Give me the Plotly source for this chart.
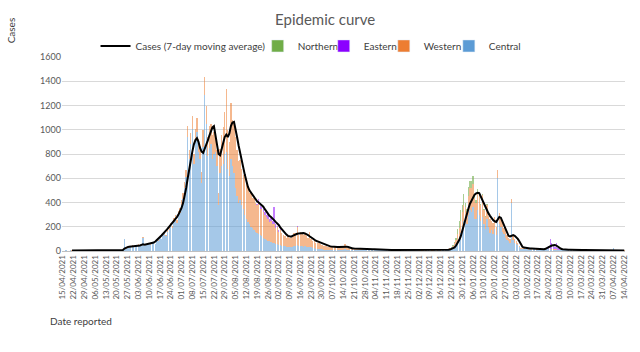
import pandas as pd
import plotly.graph_objects as go

start_date = "2021-04-15"
n_days = 365
dates = pd.date_range(start_date, periods=n_days, freq="D")

# Daily reported cases, one row per week (day 0 = 15/04/2021)
central = [
    4, 2, 5, 3, 1, 6, 4,
    5, 3, 6, 2, 4, 7, 3,
    4, 6, 3, 5, 8, 4, 6,
    7, 4, 5, 9, 3, 6, 8,
    6, 9, 5, 7, 10, 4, 8,
    9, 6, 11, 8, 12, 95, 20,
    35, 28, 40, 45, 30, 38, 42,
    50, 38, 45, 110, 40, 55, 48,
    60, 52, 70, 65, 55, 90, 85,
    110, 95, 130, 140, 120, 160, 175,
    210, 190, 240, 260, 230, 290, 310,
    380, 430, 520, 610, 940, 760, 880,
    1010, 720, 900, 980, 820, 760, 560,
    860, 1290, 1050, 780, 850, 880, 760,
    800, 820, 700, 380, 640, 700, 720,
    800, 820, 680, 620, 760, 700, 640,
    520, 450, 400, 420, 380, 350, 300,
    260, 240, 220, 200, 190, 170, 160,
    150, 140, 130, 120, 110, 100, 90,
    85, 80, 75, 70, 70, 60, 55,
    50, 50, 45, 40, 40, 35, 35,
    30, 30, 35, 40, 45, 50, 40,
    45, 40, 35, 40, 35, 30, 35,
    30, 25, 25, 20, 20, 18, 15,
    15, 12, 12, 10, 10, 10, 8,
    10, 8, 9, 7, 8, 10, 9,
    12, 15, 10, 8, 7, 6, 5,
    6, 5, 10, 12, 9, 11, 13,
    8, 10, 9, 11, 8, 10, 12,
    7, 9, 8, 9, 7, 9, 10,
    6, 8, 7, 8, 6, 7, 9,
    5, 7, 6, 7, 5, 6, 8,
    4, 6, 5, 6, 4, 5, 7,
    4, 5, 4, 5, 4, 5, 6,
    3, 4, 4, 5, 3, 4, 5,
    4, 5, 6, 8, 10, 12, 15,
    20, 30, 45, 60, 80, 110, 150,
    200, 250, 240, 220, 300, 340, 320,
    360, 260, 260, 340, 300, 250, 280,
    220, 180, 260, 200, 150, 170, 140,
    180, 130, 600, 220, 200, 160, 140,
    110, 90, 80, 70, 400, 90, 70,
    60, 50, 30, 20, 18, 16, 15,
    14, 12, 15, 11, 13, 16, 10,
    12, 14, 11, 13, 15, 12, 14,
    15, 15, 12, 10, 12, 10, 8,
    8, 7, 8, 6, 9, 7, 8,
    5, 7, 6, 8, 7, 9, 6,
    5, 6, 7, 5, 8, 6, 7,
    5, 6, 5, 7, 6, 8, 5,
    4, 5, 6, 5, 7, 5, 6,
    22, 5, 4, 6, 5, 4, 5,
    4,
]

western = [
    0, 0, 1, 0, 0, 0, 1,
    0, 1, 0, 0, 1, 0, 0,
    1, 0, 0, 1, 0, 0, 1,
    0, 1, 0, 0, 1, 0, 0,
    1, 0, 1, 0, 0, 1, 0,
    0, 1, 0, 1, 0, 5, 2,
    3, 2, 4, 2, 3, 4, 3,
    4, 3, 5, 7, 3, 4, 5,
    5, 4, 6, 5, 4, 8, 7,
    10, 8, 12, 15, 10, 18, 20,
    25, 20, 30, 35, 25, 40, 45,
    40, 45, 50, 60, 90, 70, 90,
    100, 80, 110, 120, 100, 110, 90,
    140, 145, 150, 160, 180, 170, 200,
    180, 150, 130, 100, 200, 260, 300,
    350, 520, 320, 280, 460, 380, 420,
    420, 380, 340, 330, 300, 280, 310,
    300, 290, 260, 280, 250, 270, 240,
    230, 250, 220, 230, 210, 200, 190,
    180, 160, 170, 150, 150, 130, 140,
    110, 120, 100, 90, 80, 70, 85,
    75, 80, 95, 110, 100, 150, 90,
    110, 100, 95, 110, 90, 80, 120,
    70, 60, 55, 50, 45, 45, 40,
    35, 30, 32, 28, 25, 30, 25,
    28, 22, 25, 20, 24, 28, 25,
    30, 45, 30, 20, 15, 14, 12,
    13, 12, 5, 6, 4, 5, 6,
    3, 5, 4, 5, 4, 5, 5,
    3, 4, 3, 4, 3, 4, 4,
    2, 3, 2, 3, 3, 2, 2,
    2, 2, 2, 1, 2, 3, 1,
    2, 1, 2, 1, 1, 2, 1,
    1, 1, 1, 1, 1, 2, 1,
    1, 1, 1, 1, 1, 1, 1,
    1, 2, 3, 3, 4, 5, 6,
    8, 12, 20, 30, 60, 80, 100,
    120, 130, 120, 100, 150, 180, 200,
    190, 180, 140, 150, 160, 130, 180,
    120, 100, 120, 90, 110, 80, 90,
    100, 70, 70, 90, 60, 70, 50,
    60, 40, 30, 25, 30, 30, 25,
    20, 15, 10, 8, 6, 6, 5,
    4, 3, 5, 3, 4, 5, 3,
    4, 4, 3, 4, 5, 4, 4,
    5, 5, 4, 5, 5, 4, 3,
    3, 2, 3, 2, 3, 2, 2,
    2, 1, 2, 2, 1, 2, 1,
    1, 2, 1, 2, 1, 1, 2,
    1, 1, 2, 1, 1, 2, 1,
    1, 1, 1, 2, 1, 1, 1,
    4, 1, 1, 1, 1, 1, 1,
    1,
]

# Sparse regions: day offsets from 15/04/2021 and values
northern_day = [251, 252, 253, 254, 255, 256, 257, 258, 259, 260, 261, 262, 263,
                264, 265, 266, 267, 268, 269, 270, 271, 272, 273, 274, 275]
northern_val = [2, 3, 5, 10, 20, 40, 60, 90, 60, 90, 40, 30, 80,
                60, 60, 70, 30, 20, 20, 15, 10, 10, 10, 5, 5]

eastern_day = [126, 127, 128, 129, 130, 131, 132, 133, 134, 135, 136, 137, 138,
               139, 140, 141, 142, 152, 315, 316, 317, 318, 319, 320, 321, 322]
eastern_val = [10, 40, 20, 15, 30, 25, 20, 40, 20, 30, 25, 140, 30,
               15, 10, 10, 5, 5, 20, 80, 50, 30, 20, 50, 15, 5]

# 7-day moving average
moving_avg = [
    None, None, None, None, None, None, 4,
    4, 4, 4, 4, 4, 5, 5,
    5, 5, 5, 5, 5, 5, 5,
    5, 6, 6, 6, 6, 6, 6,
    6, 7, 7, 7, 7, 7, 8,
    8, 8, 9, 9, 9, 20, 28,
    32, 35, 36, 37, 38, 39, 40,
    42, 45, 50, 55, 52, 54, 56,
    58, 62, 66, 70, 78, 88, 100,
    115, 128, 140, 155, 170, 185, 200,
    215, 230, 245, 260, 280, 300, 325,
    355, 395, 450, 520, 600, 680, 760,
    820, 880, 915, 930, 900, 850, 820,
    810, 840, 880, 910, 950, 990, 1020,
    1030, 950, 860, 800, 790, 830, 890,
    940, 960, 940, 970, 1030, 1060, 1065,
    1010, 940, 870, 800, 740, 690, 630,
    575, 530, 500, 480, 460, 450, 430,
    410, 400, 390, 375, 365, 345, 325,
    305, 290, 280, 270, 255, 240, 228,
    215, 195, 178, 160, 148, 135, 125,
    118, 118, 125, 132, 138, 142, 145,
    148, 150, 148, 145, 140, 132, 122,
    115, 105, 95, 85, 80, 75, 68,
    60, 55, 52, 48, 44, 40, 38,
    36, 35, 35, 34, 34, 35, 36,
    38, 38, 36, 33, 28, 24, 21,
    20, 19, 18, 18, 17, 17, 17,
    16, 16, 15, 15, 15, 14, 14,
    13, 13, 12, 12, 12, 11, 11,
    10, 10, 10, 9, 9, 9, 9,
    8, 8, 8, 8, 7, 7, 7,
    7, 7, 6, 6, 6, 6, 6,
    6, 6, 6, 5, 5, 5, 5,
    5, 5, 5, 5, 5, 5, 5,
    6, 6, 7, 7, 8, 10, 12,
    16, 22, 30, 45, 65, 90, 120,
    170, 215, 260, 310, 350, 390, 420,
    445, 465, 475, 480, 478, 450, 410,
    380, 355, 335, 310, 290, 270, 255,
    245, 240, 260, 280, 275, 245, 210,
    175, 145, 125, 120, 125, 132, 125,
    115, 100, 80, 50, 35, 28, 25,
    23, 22, 20, 20, 19, 18, 17,
    16, 15, 15, 15, 15, 18, 25,
    35, 42, 45, 48, 50, 45, 35,
    25, 18, 14, 12, 11, 10, 10,
    10, 9, 9, 9, 9, 9, 8,
    8, 8, 8, 8, 8, 8, 8,
    7, 7, 7, 7, 7, 7, 7,
    7, 7, 6, 6, 6, 6, 6,
    6, 6, 6, 6, 6, 6, 5,
    5,
]

for name, arr in (("central", central), ("western", western), ("moving_avg", moving_avg)):
    if len(arr) != n_days:
        raise ValueError(f"{name} has {len(arr)} values")

northern_dates = [dates[i] for i in northern_day]
eastern_dates = [dates[i] for i in eastern_day]

y_ticks = [0, 200, 400, 600, 800, 1000, 1200, 1400, 1600]

full = {"Northern": "#70AD47", "Eastern": "#8B00FF", "Western": "#ED7D31", "Central": "#5B9BD5"}
light = {"Northern": "rgba(112,173,71,0.6)", "Eastern": "rgba(139,0,255,0.5)",
         "Western": "rgba(237,125,49,0.55)", "Central": "rgba(91,155,213,0.55)"}

FONT = "Lato, 'Open Sans', sans-serif"
GREY = "#595959"
LEG_FONT = dict(size=10, color="#404040", family=FONT)

fig = go.Figure()
# stacked bars: Central at bottom, then Western, Eastern, Northern
fig.add_trace(go.Bar(x=dates, y=central, marker_color=light["Central"], marker_line_width=0,
                     showlegend=False, name="Central"))
fig.add_trace(go.Bar(x=dates, y=western, marker_color=light["Western"], marker_line_width=0,
                     showlegend=False, name="Western"))
fig.add_trace(go.Bar(x=eastern_dates, y=eastern_val, marker_color=light["Eastern"], marker_line_width=0,
                     showlegend=False, name="Eastern"))
fig.add_trace(go.Bar(x=northern_dates, y=northern_val, marker_color=light["Northern"], marker_line_width=0,
                     showlegend=False, name="Northern"))
fig.add_trace(go.Scatter(x=dates, y=moving_avg, mode="lines", line=dict(color="black", width=2),
                         name="Cases (7-day moving average)", showlegend=True, legend="legend"))
# legend-only entries with solid swatches, each in its own legend box
legend_names = ["legend2", "legend3", "legend4", "legend5"]
for nm, lg in zip(["Northern", "Eastern", "Western", "Central"], legend_names):
    fig.add_trace(go.Bar(x=[None], y=[None], marker_color=full[nm], name=nm, showlegend=True,
                         legend=lg))


def px_to_paper(px):
    return (px - 62.5) / 562.5


leg_common = dict(orientation="h", xanchor="left", y=1.057, yanchor="middle",
                  font=LEG_FONT, itemwidth=30, bgcolor="rgba(0,0,0,0)", borderwidth=0)
legend_starts = {"legend": 96, "legend2": 258, "legend3": 324, "legend4": 384, "legend5": 449}

fig.update_layout(
    width=640, height=352,
    barmode="stack", bargap=0.12,
    plot_bgcolor="white", paper_bgcolor="white",
    margin=dict(l=62, r=15, t=57, b=101),
    font=dict(family=FONT, color=GREY, size=9),
    title=dict(text="Epidemic curve", x=0.508, xanchor="center", y=0.943, yanchor="middle",
               font=dict(size=15, color=GREY, family=FONT)),
    xaxis=dict(type="date",
               range=["2021-04-14 12:00", "2022-04-14 12:00"],
               tickmode="linear", tick0=start_date, dtick=7 * 86400000,
               tickformat="%d/%m/%Y", tickangle=-90,
               tickfont=dict(size=8, color=GREY, family=FONT),
               showgrid=False, showline=True, linecolor="#bfbfbf", linewidth=1,
               ticks="", zeroline=False),
    yaxis=dict(range=[0, 1600], tickvals=y_ticks, showgrid=True, gridcolor="#d9d9d9",
               gridwidth=1, zeroline=False, showline=False, ticks="",
               tickfont=dict(size=9, color=GREY, family=FONT)),
    annotations=[
        dict(text="Cases", textangle=-90, xref="paper", yref="paper", x=-0.09, y=1.139,
             xanchor="center", yanchor="middle", showarrow=False,
             font=dict(size=10, color="#404040", family=FONT)),
        dict(text="Date reported", xref="paper", yref="paper", x=0.033, y=-0.361,
             xanchor="center", yanchor="middle", showarrow=False,
             font=dict(size=10, color="#404040", family=FONT)),
    ],
)
for lg, px in legend_starts.items():
    fig.update_layout({lg: dict(leg_common, x=px_to_paper(px))})

fig.write_html("out.html")
